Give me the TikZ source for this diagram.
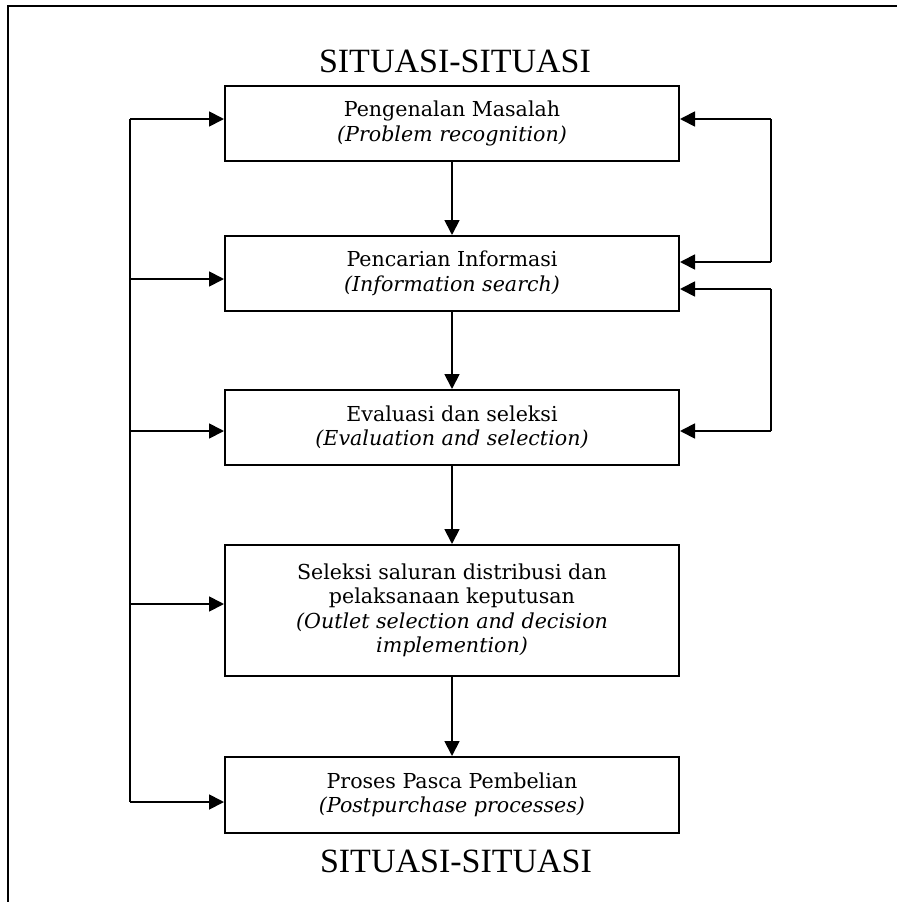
\documentclass[tikz,border=0pt]{standalone}
\usepackage{fontspec}
\setmainfont{DejaVu Serif}
\newfontfamily\sitfont{Liberation Serif}
\usetikzlibrary{arrows.meta}
\begin{document}
\begin{tikzpicture}[x=1pt,y=-1pt,
  box/.style={draw, line width=2pt, minimum width=454pt, inner sep=0pt, align=center, font=\fontsize{20.6}{24.5}\selectfont},
  conn/.style={line width=1.8pt, -{Triangle[length=15pt,width=15pt]}},
  plain/.style={line width=1.8pt},
  sit/.style={font=\sitfont\fontsize{34}{40}\selectfont, anchor=base, inner sep=0pt}]
\useasboundingbox (0,0) rectangle (897,902);
\draw[line width=2pt] (8,902) -- (8,6) -- (897,6);

\node[sit] (t1) at (455,72) {SITUASI-SITUASI};
\node[sit] (t2) at (456,872) {SITUASI-SITUASI};

\node[box, minimum height=75pt] (b1) at (452,123.5) {Pengenalan Masalah\\\textit{(Problem recognition)}};
\node[box, minimum height=75pt] (b2) at (452,273.5) {Pencarian Informasi\\\textit{(Information search)}};
\node[box, minimum height=75pt] (b3) at (452,427.5) {Evaluasi dan seleksi\\\textit{(Evaluation and selection)}};
\node[box, minimum height=131pt] (b4) at (452,610.5) {Seleksi saluran distribusi dan\\pelaksanaan keputusan\\\textit{(Outlet selection and decision}\\\textit{implemention)}};
\node[box, minimum height=76pt] (b5) at (452,795) {Proses Pasca Pembelian\\\textit{(Postpurchase processes)}};

\draw[conn] (b1) -- (b2);
\draw[conn] (b2) -- (b3);
\draw[conn] (b3) -- (b4);
\draw[conn] (b4) -- (b5);

\coordinate (s1) at (130,119);
\coordinate (s2) at (130,279);
\coordinate (s3) at (130,431);
\coordinate (s4) at (130,604);
\coordinate (s5) at (130,802);
\draw[plain] (s1) -- (s5);
\draw[conn] (s1) -- (s1 -| b1.west);
\draw[conn] (s2) -- (s2 -| b2.west);
\draw[conn] (s3) -- (s3 -| b3.west);
\draw[conn] (s4) -- (s4 -| b4.west);
\draw[conn] (s5) -- (s5 -| b5.west);

\coordinate (r1) at (771,119);
\coordinate (r2) at (771,262);
\coordinate (r3) at (771,289);
\coordinate (r4) at (771,431);
\draw[plain] (r1) -- (r2);
\draw[plain] (r3) -- (r4);
\draw[conn] (r1) -- (r1 -| b1.east);
\draw[conn] (r2) -- (r2 -| b2.east);
\draw[conn] (r3) -- (r3 -| b2.east);
\draw[conn] (r4) -- (r4 -| b3.east);
\end{tikzpicture}
\end{document}
